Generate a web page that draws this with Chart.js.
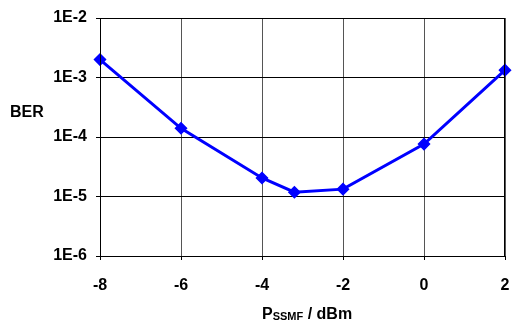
<!DOCTYPE html>
<html>
<head>
<meta charset="utf-8">
<script src="https://cdn.jsdelivr.net/npm/chart.js@4/dist/chart.umd.min.js"></script>
<style>
html,body{margin:0;padding:0;background:#fff;}
#wrap{width:512px;height:322px;}
</style>
</head>
<body>
<div id="wrap"><canvas id="c" width="512" height="322"></canvas></div>
<script>
const powerDbm = [-8, -6, -4, -3.2, -2, 0, 2];
const berValues = [2.0e-3, 1.4e-4, 2.05e-5, 1.18e-5, 1.33e-5, 7.6e-5, 1.33e-3];
const yTickValues = [1e-6, 1e-5, 1e-4, 1e-3, 1e-2];
const yTickLabels = ['1E-6', '1E-5', '1E-4', '1E-3', '1E-2'];
const xTickValues = [-8, -6, -4, -2, 0, 2];
const yTitle = 'BER';
const xTitleMain = 'P';
const xTitleSub = 'SSMF';
const xTitleRest = ' / dBm';

const FONT = '"Liberation Sans", Arial, sans-serif';

const titlesPlugin = {
  id: 'titles',
  afterDraw(chart) {
    const ctx = chart.ctx;
    const a = chart.chartArea;
    ctx.save();
    ctx.strokeStyle = '#000';
    ctx.lineWidth = 1;
    ctx.strokeRect(Math.round(a.left) + 0.5, Math.round(a.top) + 0.5, Math.round(a.right - a.left) - 1, Math.round(a.bottom - a.top));
    ctx.fillStyle = '#000';
    ctx.textBaseline = 'alphabetic';
    ctx.textAlign = 'left';
    ctx.font = 'bold 16px ' + FONT;
    ctx.fillText(yTitle, 10, 117);
    let x = 262;
    const base = 318.5;
    ctx.font = 'bold 16px ' + FONT;
    ctx.fillText(xTitleMain, x, base);
    x += ctx.measureText(xTitleMain).width;
    ctx.font = 'bold 11px ' + FONT;
    ctx.fillText(xTitleSub, x, base + 1);
    x += ctx.measureText(xTitleSub).width;
    ctx.font = 'bold 16px ' + FONT;
    ctx.fillText(xTitleRest, x, base);
    ctx.restore();
  }
};

new Chart(document.getElementById('c'), {
  type: 'line',
  data: {
    datasets: [{
      data: powerDbm.map((p, i) => ({x: p, y: berValues[i]})),
      borderColor: '#0000FF',
      backgroundColor: '#0000FF',
      borderWidth: 3,
      pointStyle: 'rectRot',
      pointRadius: 5.5,
      pointBorderWidth: 1.5,
      pointBackgroundColor: '#0000FF',
      pointBorderColor: '#0000FF',
      tension: 0,
      fill: false,
      clip: false
    }]
  },
  options: {
    responsive: false,
    devicePixelRatio: 1,
    animation: false,
    layout: {padding: {top: 18, right: 6, bottom: 0, left: 0}},
    plugins: {legend: {display: false}, tooltip: {enabled: false}},
    scales: {
      x: {
        type: 'linear',
        min: -8,
        max: 2,
        afterFit(s) { s.height = 66; s.paddingLeft = 0; s.paddingRight = 0; },
        afterBuildTicks(s) { s.ticks = xTickValues.map(v => ({value: v})); },
        grid: {color: '#555', tickColor: '#000', tickLength: 4, lineWidth: 1},
        border: {color: '#000', width: 1},
        ticks: {
          color: '#000',
          font: {family: FONT, size: 16, weight: 'bold'},
          padding: 16,
          maxRotation: 0,
          callback: v => String(v)
        }
      },
      y: {
        type: 'logarithmic',
        min: 1e-6,
        max: 1e-2,
        afterFit(s) { s.width = 100; s.paddingTop = 0; s.paddingBottom = 0; },
        afterBuildTicks(s) { s.ticks = yTickValues.map(v => ({value: v})); },
        grid: {color: '#000', tickColor: '#000', tickLength: 4, lineWidth: 1},
        border: {color: '#000', width: 1},
        ticks: {
          color: '#000',
          font: {family: FONT, size: 16, weight: 'bold'},
          padding: 9,
          callback: (v) => {
            const i = yTickValues.findIndex(t => Math.abs(Math.log10(t) - Math.log10(v)) < 1e-6);
            return i >= 0 ? yTickLabels[i] : '';
          }
        }
      }
    }
  },
  plugins: [titlesPlugin]
});
</script>
</body>
</html>
